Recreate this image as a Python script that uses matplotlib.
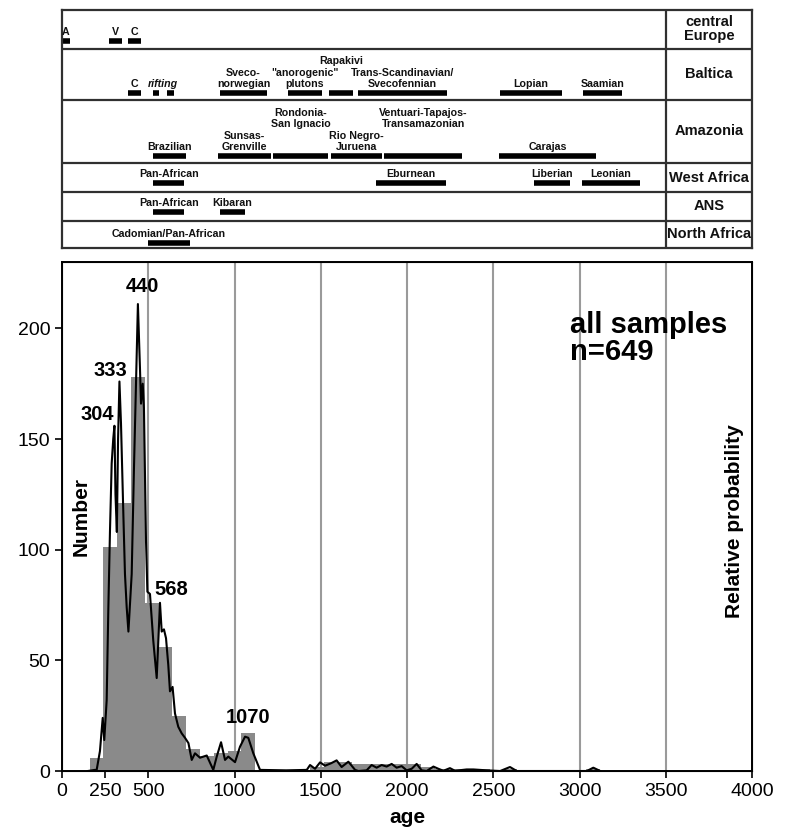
import matplotlib
matplotlib.use('Agg')
import matplotlib.pyplot as plt


plt.rcParams['font.family'] = ['Liberation Sans', 'DejaVu Sans']

# ---------------------------------------------------------------------------
# histogram of ages (left edge of 80 Ma bins, number of grains)

bin_width = 80
bin_left = [160, 240, 320, 400, 480, 560, 640, 720, 800, 880, 960, 1040,
            1440, 1520, 1600, 1680, 1760, 1840, 1920, 2000, 2080, 2160,
            2240, 2320, 2400, 2560, 3040]
bin_count = [6, 101, 121, 178, 76, 56, 25, 10, 7, 8, 9, 17,
             2, 4, 4, 3, 3, 3, 3, 3, 2, 1,
             1, 1, 1, 1, 1]

# relative probability curve (scaled to Number axis)
curve_age = [150, 191, 201, 220, 236, 245, 259, 268, 278, 288, 297, 304,
             310, 318, 325, 333, 342, 356, 365, 375, 385, 404, 417, 429,
             440, 452, 458, 468, 475, 487, 495, 510, 529, 549, 568, 578,
             591, 603, 616, 626, 641, 655, 674, 694, 713, 733, 752, 771,
             800, 839, 877, 897, 922, 945, 964, 1003, 1032, 1061, 1080,
             1109, 1148, 1300, 1419, 1438, 1467, 1496, 1525, 1560, 1592,
             1621, 1660, 1699, 1718, 1766, 1795, 1824, 1853, 1882, 1911,
             1940, 1969, 1998, 2027, 2056, 2085, 2114, 2153, 2182, 2211,
             2249, 2278, 2346, 2385, 2462, 2540, 2597, 2636, 3043, 3080,
             3120]
curve_val = [0, 0.5, 0.5, 9, 24, 14, 32, 71, 108, 139, 150, 156,
             125, 108, 150, 176, 157, 115, 89, 74, 63, 89, 136, 175,
             211, 182, 166, 175, 164, 104, 81, 80, 59, 42, 76, 63,
             64, 60, 48, 36, 38, 26, 20, 17, 15, 12.6, 5, 8,
             6, 7, 0.5, 6.5, 13, 5, 6.5, 4, 11, 15.5, 15,
             8, 0.5, 0.3, 0.5, 2.7, 1, 3.9, 2.4, 3.5, 4.8,
             1.8, 4.2, 0.5, 0, 0.3, 2.7, 1.5, 2.7, 2, 3.2,
             1.5, 2.2, 0.3, 1, 3.2, 0.3, 0, 2, 1, 0.1,
             1.3, 0.1, 0.7, 0.7, 0.3, 0, 1.8, 0, 0, 1.5,
             0]

peak_names = ['304', '333', '440', '568', '1070']

# ---------------------------------------------------------------------------
# orogenic events per region (row, start age, end age, name)

regions = ['central\nEurope', 'Baltica', 'Amazonia', 'West Africa', 'ANS',
           'North Africa']

events = [
    (0, 0, 46, 'A'),
    (0, 275, 346, 'V'),
    (0, 384, 458, 'C'),
    (1, 384, 458, 'C'),
    (1, 526, 564, 'rifting'),
    (1, 610, 649, 'rifting'),
    (1, 916, 1187, 'Sveco-\nnorwegian'),
    (1, 1312, 1505, '"anorogenic"\nplutons'),
    (1, 1550, 1689, 'Rapakivi'),
    (1, 1714, 2234, 'Trans-Scandinavian/\nSvecofennian'),
    (1, 2537, 2899, 'Lopian'),
    (1, 3018, 3246, 'Saamian'),
    (2, 526, 717, 'Brazilian'),
    (2, 902, 1212, 'Sunsas-\nGrenville'),
    (2, 1225, 1544, 'Rondonia-\nSan Ignacio'),
    (2, 1557, 1853, 'Rio Negro-\nJuruena'),
    (2, 1867, 2319, 'Ventuari-Tapajos-\nTransamazonian'),
    (2, 2532, 3098, 'Carajas'),
    (3, 529, 709, 'Pan-African'),
    (3, 1822, 2224, 'Eburnean'),
    (3, 2736, 2943, 'Liberian'),
    (3, 3012, 3351, 'Leonian'),
    (4, 529, 709, 'Pan-African'),
    (4, 916, 1061, 'Kibaran'),
    (5, 500, 742, 'Cadomian/Pan-African'),
]

# labels lifted two text lines above their bar
raised = ['Rapakivi', 'Rondonia-\nSan Ignacio',
          'Ventuari-Tapajos-\nTransamazonian']


def main():

    fig = plt.figure(figsize=(7.85, 8.3), dpi=100)

    #--------------------------------------------------------------------------
    # table of orogenies on top (y in pixel-like units, 10 at top)

    row_edges = [10, 49, 100, 163, 192, 221, 248]
    bar_y = [41.5, 93.3, 156, 182.7, 211.7, 243.3]
    line_h = 11.7

    tab = fig.add_axes([62 / 785, 1 - 248 / 830, 690 / 785, 238 / 830])
    tab.set_xlim(0, 4000)
    tab.set_ylim(248, 10)
    tab.set_xticks([])
    tab.set_yticks([])
    for s in tab.spines.values():
        s.set_linewidth(1.6)
        s.set_color('#303030')

    for y in row_edges[1:-1]:
        tab.axhline(y, color='#303030', lw=1.6)
    tab.axvline(3500, color='#303030', lw=1.6)

    for i, name in enumerate(regions):
        yc = 0.5 * (row_edges[i] + row_edges[i + 1])
        tab.text(3750, yc, name, ha='center', va='center', fontsize=10.5,
                 fontweight='bold', linespacing=1.0, color='#111111')

    done = set()
    for row, a0, a1, name in events:
        tab.plot([a0, a1], [bar_y[row], bar_y[row]], color='black', lw=4,
                 solid_capstyle='butt')
        if (row, name) in done:
            continue
        done.add((row, name))
        same = [(e[1], e[2]) for e in events if e[0] == row and e[3] == name]
        xc = 0.5 * (min(s[0] for s in same) + max(s[1] for s in same))
        style = 'italic' if name == 'rifting' else 'normal'
        y = bar_y[row] - 4
        if name in raised:
            y -= 2 * line_h
        tab.text(xc, y, name, ha='center', va='bottom',
                 fontsize=7.7, fontweight='bold', fontstyle=style,
                 linespacing=1.1, color='#111111')

    #--------------------------------------------------------------------------
    # histogram + probability curve

    ax = fig.add_axes([62 / 785, 59 / 830, 690 / 785, 509 / 830])

    for g in [500, 1000, 1500, 2000, 2500, 3000, 3500]:
        ax.axvline(g, color='#9a9a9a', lw=1.5, zorder=0)

    ax.bar(bin_left, bin_count, width=bin_width, align='edge',
           color='#8a8a8a', zorder=1)

    ax.set_xlim(0, 4000)
    ax.set_ylim(0, 230)
    ax.set_xticks([0, 250, 500, 1000, 1500, 2000, 2500, 3000, 3500, 4000])
    ax.set_yticks([0, 50, 100, 150, 200])
    ax.tick_params(labelsize=14, direction='out', length=5, width=1.2)
    for s in ax.spines.values():
        s.set_linewidth(1.4)

    ax.set_xlabel('age', fontsize=15, fontweight='bold', labelpad=6)
    ax.text(0.027, 0.5, 'Number', transform=ax.transAxes, rotation=90,
            ha='center', va='center', fontsize=15, fontweight='bold')

    ax2 = ax.twinx()
    ax2.set_ylim(0, 230)
    ax2.set_yticks([])
    ax2.plot(curve_age, curve_val, color='black', lw=1.5)
    ax2.text(0.975, 0.49, 'Relative probability', transform=ax.transAxes,
             rotation=90, ha='center', va='center', fontsize=15,
             fontweight='bold')

    # peak labels
    label_xy = [(205, 161), (279, 181), (464, 219), (632, 82), (1080, 24)]
    for name, (x, y) in zip(peak_names, label_xy):
        ax2.text(x, y, name, ha='center', va='center', fontsize=14.5,
                 fontweight='bold')

    ax2.text(2945, 208, 'all samples\nn=649', ha='left', va='top',
             fontsize=21, fontweight='bold', linespacing=0.95)

    fig.savefig('out.png', dpi=100)


if __name__ == "__main__":
    main()
